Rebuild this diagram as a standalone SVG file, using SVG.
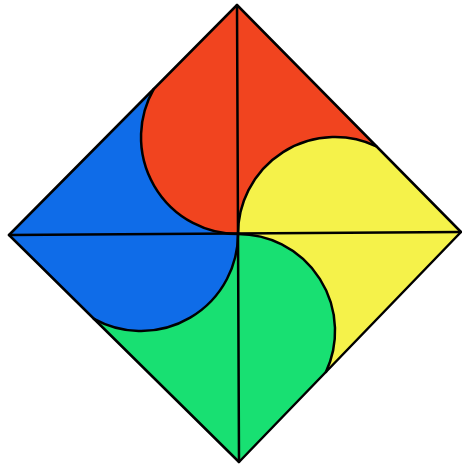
<svg xmlns="http://www.w3.org/2000/svg" width="462" height="465" viewBox="0 0 462 465">
<style>
.ln{stroke:#000;stroke-width:2.5;fill:none;stroke-linejoin:round;stroke-linecap:round}
.red{fill:#F1441F}
.yel{fill:#F5F24A}
.grn{fill:#18E072}
.blu{fill:#0F6CE8}
</style>
<rect width="462" height="465" fill="#fff"/>
<g id="quadrants">
<polygon class="red" points="238,234 237,5 461,232"/>
<polygon class="yel" points="238,234 461,232 239,462"/>
<polygon class="grn" points="238,234 239,462 9,235"/>
<polygon class="blu" points="238,234 9,235 237,5"/>
</g>
<g id="red-lobe"><path class="red" d="M238,234 A97,97 0 0 1 153.7,89.05 L237,5 Z"/></g>
<g id="yellow-lobe"><path class="yel" d="M238,234 A97,97 0 0 1 376.4,146.3 L461,232 Z"/></g>
<g id="green-lobe"><path class="grn" d="M238,234 A97,97 0 0 1 326,371.9 L239,462 Z"/></g>
<g id="blue-lobe"><path class="blu" d="M238,234 A97,97 0 0 1 93.9,318.8 L9,235 Z"/></g>
<g id="lines">
<path class="ln" d="M238,234 A97,97 0 0 1 153.7,89.05"/>
<path class="ln" d="M238,234 A97,97 0 0 1 376.4,146.3"/>
<path class="ln" d="M238,234 A97,97 0 0 1 326,371.9"/>
<path class="ln" d="M238,234 A97,97 0 0 1 93.9,318.8"/>
<polygon class="ln" points="237,5 461,232 239,462 9,235"/>
<line class="ln" x1="237" y1="5" x2="239" y2="462"/>
<line class="ln" x1="9" y1="235" x2="461" y2="232"/>
</g>
</svg>
